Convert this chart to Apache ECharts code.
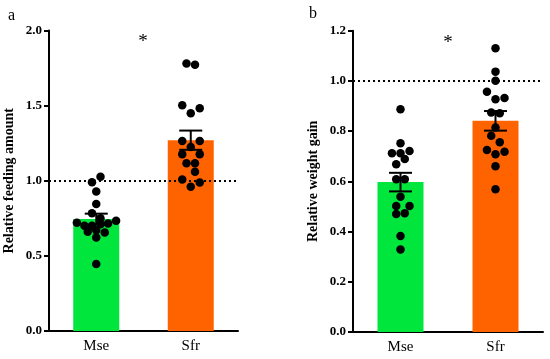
<!DOCTYPE html>
<html>
<head>
<meta charset="utf-8">
<script src="https://cdn.jsdelivr.net/npm/echarts@6/dist/echarts.min.js"></script>
<style>
html,body{margin:0;padding:0;background:#fff;}
#chart{width:550px;height:359px;}
</style>
</head>
<body>
<div id="chart"></div>
<script>
// ---- data ----
const categories = ['Mse', 'Sfr'];

// panel a: relative feeding amount
const feedMean = [0.745, 1.270];
const feedSem = [0.036, 0.064];
const feedMsePts = [1.027, 0.99, 0.929, 0.845, 0.783, 0.75, 0.734, 0.72, 0.716, 0.71, 0.70, 0.70, 0.66, 0.67, 0.655, 0.623, 0.446];
const feedMseJit = [0.045, -0.045, 0, 0, -0.045, 0.045, 0.21, -0.205, 0.125, 0.045, -0.045, -0.125, -0.09, 0, 0.09, 0, 0];
const feedSfrPts = [1.781, 1.772, 1.502, 1.45, 1.482, 1.264, 1.264, 1.224, 1.176, 1.176, 1.116, 1.116, 1.06, 1.009, 0.989, 0.96];
const feedSfrJit = [-0.045, 0.045, -0.09, 0, 0.095, -0.09, 0.095, 0, -0.09, 0.095, -0.045, 0.045, 0.045, -0.09, 0.095, 0];

// panel b: relative weight gain
const wMean = [0.597, 0.841];
const wSem = [0.037, 0.039];
const wMsePts = [0.887, 0.752, 0.712, 0.712, 0.721, 0.689, 0.668, 0.608, 0.608, 0.539, 0.502, 0.502, 0.47, 0.473, 0.382, 0.329];
const wMseJit = [0, 0, -0.09, 0, 0.095, 0.045, -0.045, -0.045, 0.045, 0, -0.045, 0.095, -0.045, 0.045, 0, 0];
const wSfrPts = [1.13, 1.037, 1.001, 0.957, 0.927, 0.932, 0.874, 0.871, 0.814, 0.782, 0.756, 0.725, 0.718, 0.708, 0.66, 0.569];
const wSfrJit = [0, 0, 0, -0.09, 0, 0.095, -0.045, 0.045, 0, -0.045, 0.045, -0.09, 0.095, 0, 0, 0];

const feedTicks = {min: 0, max: 2.0, interval: 0.5};
const wTicks = {min: 0, max: 1.2, interval: 0.2};
const refValue = 1.0;

const yNames = ['Relative feeding amount', 'Relative weight gain'];
const panelLabels = ['a', 'b'];
const sigMark = '*';

// ---- styles ----
const FONT = 'Liberation Serif';
const barColors = ['#00E63C', '#FF6300'];

function pts(vals, jit, idx) {
  return vals.map((v, i) => [idx + jit[i], v]);
}

function errRender(params, api) {
  const idx = api.value(0);
  const m = api.value(1);
  const s = api.value(2);
  const x = api.coord([idx, m])[0];
  const yT = api.coord([idx, m + s])[1];
  const yB = api.coord([idx, m - s])[1];
  const hw = 11.5;
  const st = {stroke: '#000', lineWidth: 2};
  return {
    type: 'group',
    children: [
      {type: 'line', shape: {x1: x, y1: yT, x2: x, y2: yB}, style: st},
      {type: 'line', shape: {x1: x - hw, y1: yT, x2: x + hw, y2: yT}, style: st},
      {type: 'line', shape: {x1: x - hw, y1: yB, x2: x + hw, y2: yB}, style: st}
    ]
  };
}

const grids = [
  {left: 49, right: 312, top: 30.5, bottom: 28},
  {left: 353, right: 7, top: 30.7, bottom: 27}
];

function catAxis(g) {
  return {
    type: 'category', gridIndex: g, data: categories,
    axisLine: {onZero: false, lineStyle: {color: '#000', width: 2}},
    axisTick: {alignWithLabel: true, length: 5, lineStyle: {color: '#000', width: 2}},
    axisLabel: {color: '#000', fontFamily: FONT, fontSize: 15, margin: 8}
  };
}
function hidAxis(g) {
  return {type: 'value', gridIndex: g, min: -0.5, max: 1.5, show: false};
}
function valAxis(g, t, name) {
  return {
    type: 'value', gridIndex: g, min: t.min, max: t.max, interval: t.interval,
    name: name, nameLocation: 'middle', nameGap: 33,
    nameTextStyle: {color: '#000', fontFamily: FONT, fontWeight: 'bold', fontSize: 14},
    splitLine: {show: false},
    axisLine: {show: true, onZero: false, lineStyle: {color: '#000', width: 2}},
    axisTick: {show: true, length: 5, lineStyle: {color: '#000', width: 2}},
    axisLabel: {color: '#000', fontFamily: FONT, fontWeight: 'bold', fontSize: 13, margin: 7,
      formatter: v => v.toFixed(1)}
  };
}

function barSeries(xi, yi, means) {
  return {
    type: 'bar', xAxisIndex: xi, yAxisIndex: yi, barWidth: 46, silent: true,
    data: means.map((v, i) => ({value: v, itemStyle: {color: barColors[i]}})),
    markLine: {
      silent: true, symbol: 'none', label: {show: false},
      lineStyle: {color: '#000', type: [2, 3], width: 1.8},
      data: [{yAxis: refValue}]
    }
  };
}
function errSeries(xi, yi, means, sems) {
  return {
    type: 'custom', xAxisIndex: xi, yAxisIndex: yi, renderItem: errRender, silent: true,
    data: means.map((m, i) => [i, m, sems[i]]), z: 3
  };
}
function dotSeries(xi, yi, data) {
  return {
    type: 'scatter', xAxisIndex: xi, yAxisIndex: yi, symbol: 'circle', symbolSize: 8.5,
    itemStyle: {color: '#000', opacity: 1}, data: data, z: 4, silent: true
  };
}

const option = {
  animation: false,
  backgroundColor: '#fff',
  grid: grids,
  xAxis: [catAxis(0), hidAxis(0), catAxis(1), hidAxis(1)],
  yAxis: [valAxis(0, feedTicks, yNames[0]), valAxis(1, wTicks, yNames[1])],
  series: [
    barSeries(0, 0, feedMean),
    errSeries(0, 0, feedMean, feedSem),
    dotSeries(1, 0, pts(feedMsePts, feedMseJit, 0)),
    dotSeries(1, 0, pts(feedSfrPts, feedSfrJit, 1)),
    barSeries(2, 1, wMean),
    errSeries(2, 1, wMean, wSem),
    dotSeries(3, 1, pts(wMsePts, wMseJit, 0)),
    dotSeries(3, 1, pts(wSfrPts, wSfrJit, 1))
  ],
  graphic: [
    {type: 'text', left: 8, top: 8, style: {text: panelLabels[0], font: '16px "Liberation Serif"', fill: '#000'}},
    {type: 'text', left: 309, top: 6, style: {text: panelLabels[1], font: '16px "Liberation Serif"', fill: '#000'}},
    {type: 'text', x: 143, y: 33, style: {text: sigMark, font: '19px "Liberation Serif"', fill: '#000', align: 'center', verticalAlign: 'top'}},
    {type: 'text', x: 448, y: 34, style: {text: sigMark, font: '19px "Liberation Serif"', fill: '#000', align: 'center', verticalAlign: 'top'}}
  ]
};

const chart = echarts.init(document.getElementById('chart'), null, {renderer: 'canvas'});
chart.setOption(option);
</script>
</body>
</html>
